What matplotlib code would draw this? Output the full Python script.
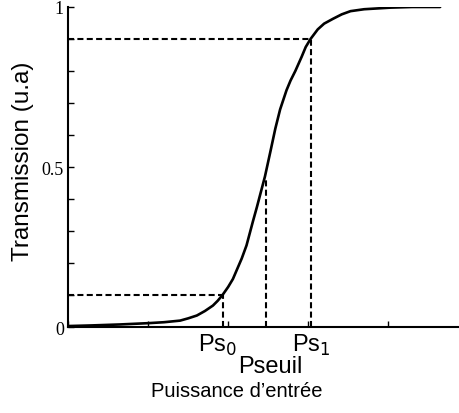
import numpy as np
import matplotlib
matplotlib.use("Agg")
import matplotlib.pyplot as plt

# transmission curve
puissance = [0.0, 0.3, 0.65, 1.0, 1.2, 1.4, 1.5, 1.61, 1.71, 1.81, 1.87, 1.93,
             2.0, 2.06, 2.12, 2.17, 2.23, 2.31, 2.36, 2.4, 2.46, 2.53, 2.59,
             2.65, 2.73, 2.78, 2.84, 2.92, 2.97, 3.03, 3.12, 3.2, 3.31, 3.42,
             3.53, 3.7, 4.03, 4.3, 4.65]
transmission = [0.003, 0.005, 0.008, 0.012, 0.015, 0.02, 0.027, 0.036, 0.05, 0.067,
                0.082, 0.10, 0.125, 0.15, 0.185, 0.214, 0.255, 0.33, 0.375, 0.413,
                0.47, 0.55, 0.62, 0.68, 0.74, 0.77, 0.80, 0.845, 0.875, 0.90,
                0.93, 0.948, 0.963, 0.977, 0.987, 0.993, 0.998, 1.0, 1.0]

# markers on the x axis
seuils = [1.93, 2.47, 3.03]
seuil_vals = [0.10, 0.47, 0.90]
seuil_labels = ["Ps$_0$", "Pseuil", "Ps$_1$"]

W, H = 460, 414
fig = plt.figure(figsize=(W / 100, H / 100), dpi=100)
ax = fig.add_axes([0.148, 0.2077, 0.848, 0.773])

ax.plot(puissance, transmission, color="black", lw=1.9,
        solid_joinstyle="round", solid_capstyle="round")

dash = (0, (2.9, 1.6))
ax.plot([0, seuils[0]], [seuil_vals[0], seuil_vals[0]], color="black", ls=dash, lw=1.5)
ax.plot([0, seuils[2]], [seuil_vals[2], seuil_vals[2]], color="black", ls=dash, lw=1.5)
for xs, ys in zip(seuils, seuil_vals):
    ax.plot([xs, xs], [0, ys], color="black", ls=dash, lw=1.5)

ax.set_xlim(0, 4.875)
ax.set_ylim(0, 1.0)
ax.spines["top"].set_visible(False)
ax.spines["right"].set_visible(False)
ax.spines["left"].set_linewidth(1.5)
ax.spines["bottom"].set_linewidth(1.5)

ax.set_xticks([0, 1, 2, 3, 4])
ax.set_xticklabels([])
ax.set_yticks(np.arange(0, 1.01, 0.1))
ax.set_yticklabels(["0", "", "", "", "", "0.5", "", "", "", "", "1"],
                   family="Liberation Serif", fontsize=13)
ax.tick_params(direction="in", length=4, width=1, pad=3)

ax.set_ylabel("Transmission (u.a)", family="Liberation Sans", fontsize=17.5)
ax.yaxis.set_label_coords(-0.087, 0.52)


def label(px, py, s, size):
    # px, py in picture pixels from the top-left corner
    fig.text(px / W, 1 - py / H, s, ha="center", va="top",
             family="Liberation Sans", fontsize=size)


# labels under the dashed verticals
label(218, 333, seuil_labels[0], 17)
label(270, 356, seuil_labels[1], 17)
label(311, 333, seuil_labels[2], 17)
label(237, 382, "Puissance d\u2019entrée", 14.5)

fig.savefig("out.png", dpi=100)
